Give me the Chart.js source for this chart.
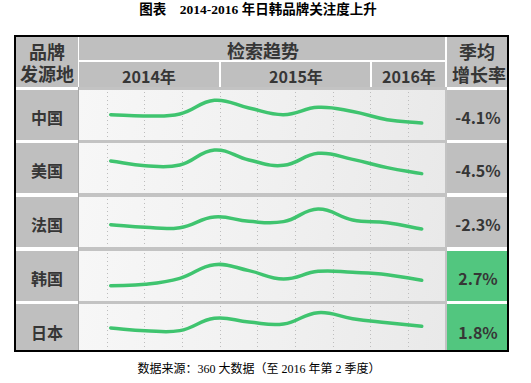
<!DOCTYPE html>
<html><head><meta charset="utf-8">
<script src="https://cdn.jsdelivr.net/npm/chart.js@4.4.1/dist/chart.umd.min.js"></script>
<style>
html,body{margin:0;padding:0;background:#fff;}
body{width:531px;height:383px;position:relative;overflow:hidden;font-family:"Noto Sans CJK SC","Noto Sans",sans-serif;}
.a{position:absolute;box-sizing:border-box;}
.gray{background:#bfbfbf;}
.green{background:#52c67f;}
.t{position:absolute;color:#363636;font-weight:700;text-align:center;white-space:nowrap;}
.mid{background:linear-gradient(100deg,#f7f7f7 0%,#f0f0f0 55%,#e9e9e9 100%);overflow:hidden;}
.serif{font-family:"Liberation Serif","Noto Sans CJK SC",serif;color:#000;}
</style></head><body>
<script>
// ---- data ----
const quarters = ['2014Q1','2014Q2','2014Q3','2014Q4','2015Q1','2015Q2','2015Q3','2015Q4','2016Q1','2016Q2'];
const years = ['2014年','2015年','2016年'];
const countries = ['中国','美国','法国','韩国','日本'];
const growthRates = ['-4.1%','-4.5%','-2.3%','2.7%','1.8%'];
const chinaTrend  = [46.7,44.0,48.0,75.3,60.0,46.7,61.3,53.0,36.7,30.0];
const usaTrend    = [60.0,50.7,52.0,82.0,62.0,51.3,75.3,63.3,46.7,34.7];
const franceTrend = [40.7,35.3,34.7,56.0,47.3,46.7,72.0,50.0,44.7,32.0];
const koreaTrend  = [26.7,29.3,41.3,68.7,56.7,40.0,55.3,53.3,48.7,37.3];
const japanTrend  = [48.0,42.7,42.7,67.3,60.0,56.0,78.7,66.7,58.7,51.3];
const trends = [chinaTrend, usaTrend, franceTrend, koreaTrend, japanTrend];
const titleText = '图表　2014-2016 年日韩品牌关注度上升';
const sourceText = '数据来源：360 大数据（至 2016 年第 2 季度）';
const headBrand = ['品牌','发源地'];
const headTrend = '检索趋势';
const headGrowth = ['季均','增长率'];

// ---- layout ----
const B = document.body;
function box(cls, x, y, w, h, extra){
  const d = document.createElement('div');
  d.className = 'a ' + cls;
  Object.assign(d.style, {left:x+'px', top:y+'px', width:w+'px', height:h+'px'}, extra||{});
  B.appendChild(d); return d;
}
function text(str, cx, cy, size, extraCls, extraStyle){
  const d = document.createElement('div');
  d.className = 't ' + (extraCls||'');
  const lh = Math.round(size*1.4);
  Object.assign(d.style, {left:(cx-150)+'px', width:'300px', top:(cy-lh/2)+'px', lineHeight:lh+'px', fontSize:size+'px'}, extraStyle||{});
  d.textContent = str; B.appendChild(d); return d;
}

text(titleText, 258, 9.5, 13.5, 'serif', {fontWeight:'700'});
text(sourceText, 259, 369, 12, 'serif', {fontWeight:'400'});

// header
box('gray', 16, 37, 62, 50);
box('gray', 79, 37, 366, 23);
box('gray', 79, 62, 140, 25);
box('gray', 221, 62, 149, 25);
box('gray', 372, 62, 73, 25);
box('gray', 447, 37, 60, 50);
text(headBrand[0], 47, 51, 18);
text(headBrand[1], 47, 73, 18);
text(headTrend, 263, 50, 18);
const yearCx = [149, 296, 409];
years.forEach((y,i)=>text(y, yearCx[i], 76, 16));
text(headGrowth[0], 477, 51.5, 18);
text(headGrowth[1], 479, 74, 18);

// middle column separators (gray)
box('', 79, 87, 368, 264, {background:'#c3c3c3'});
box('', 78, 87, 1, 264, {background:'#a9a9a9'});

const rowTop = [90,143,197,251,304];
const rowBot = [140,193,247,301,351];
const canvasTop = [88,141,195,249,302];
const textCy = [117,170,224,278,332];

countries.forEach((c,i)=>{
  const h = rowBot[i]-rowTop[i];
  box('gray', 16, rowTop[i], 62, h);
  const positive = !growthRates[i].startsWith('-');
  box(positive?'green':'gray', 447, rowTop[i], 60, h);
  text(c, 47, textCy[i], 16);
  text(growthRates[i], 478, textCy[i], 16);
  const cell = box('mid', 79, rowTop[i], 366, h);
  const cv = document.createElement('canvas');
  cv.width = 367; cv.height = 50;
  Object.assign(cv.style, {position:'absolute', left:'0px', top:(canvasTop[i]-rowTop[i])+'px', width:'367px', height:'50px'});
  cell.appendChild(cv);
  const vals = trends[i];
  new Chart(cv, {
    type:'line',
    data:{
      labels: quarters,
      datasets:[{
        data: vals.map((v,k)=>({x:k, y:v})),
        borderColor:'#3fc46f', borderWidth:3.5, pointRadius:0,
        tension:0.42, fill:false,
        borderCapStyle:'round', borderJoinStyle:'round'
      }]
    },
    options:{
      responsive:false, animation:false, devicePixelRatio:1, events:[],
      layout:{padding:0},
      plugins:{legend:{display:false}, tooltip:{enabled:false}},
      scales:{
        x:{type:'linear', display:false, min:-0.917, max:9.702},
        q:{type:'linear', axis:'x', position:'bottom', min:0.255, max:9.99,
           grid:{color:'#bdbdbd', lineWidth:1, drawTicks:false},
           border:{display:false, dash:[1,3]},
           ticks:{display:false},
           afterBuildTicks:s=>{ s.ticks = quarters.slice(1).map((q,k)=>({value:k+1})); }},
        y:{display:false, min:0, max:100}
      }
    }
  });
});

// outer border
box('', 14, 35, 495, 317, {border:'2px solid #000', zIndex:5});
</script>
</body></html>
